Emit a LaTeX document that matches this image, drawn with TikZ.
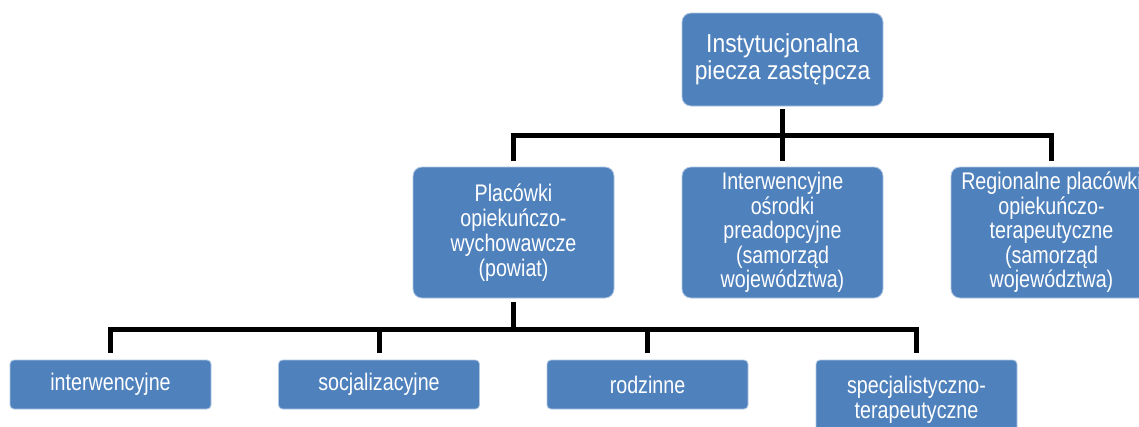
\documentclass[tikz,border=0pt]{standalone}
\usepackage{fontspec}
\newfontfamily\boxfont[FakeStretch=0.82]{Liberation Sans}
\newfontfamily\topfont[FakeStretch=0.88]{Liberation Sans}
\definecolor{boxblue}{HTML}{4F81BD}
\begin{document}
\begin{tikzpicture}[x=1pt, y=-1pt,
    box/.style={rectangle, rounded corners=9pt, fill=boxblue, draw=white!55!boxblue, line width=0.8pt, text=white, align=center, minimum width=201pt, minimum height=131pt, inner sep=1pt, font={\boxfont\fontsize{24}{25}\selectfont}},
    smallbox/.style={box, rounded corners=4pt, minimum height=49pt},
    conn/.style={line width=5pt, line join=miter}]
            % Frame
            \useasboundingbox (0,0) rectangle (1139,426);
            \clip (0,0) rectangle (1139,426);

            % Top box
            \node[box, minimum height=93pt, font={\topfont\fontsize{26}{27}\selectfont}] (top) at (782.5,59.5) {Instytucjonalna\\piecza zastępcza};

            % Second level
            \node[box] (plac) at (513.5,232.5) {Placówki\\opiekuńczo-\\wychowawcze\\(powiat)};
            \node[box, font={\boxfont\fontsize{24}{24.5}\selectfont}] (osrodki) at (782.5,232.5) {Interwencyjne\\ośrodki\\preadopcyjne\\(samorząd\\województwa)};
            \node[box, font={\boxfont\fontsize{24}{24.5}\selectfont}] (region) at (1051.5,232.5) {Regionalne placówki\\opiekuńczo-\\terapeutyczne\\(samorząd\\województwa)};

            % Third level
            \node[smallbox] (interw) at (110.5,384.5) {interwencyjne};
            \node[smallbox] (socjal) at (379,384.5) {socjalizacyjne};
            \node[smallbox] (rodzin) at (647.5,384.5) {rodzinne};
            \node[smallbox, minimum height=80pt] (specjal) at (916.5,400) {specjalistyczno-\\terapeutyczne};

            % Upper connectors
            \coordinate (bus1) at (782.5,135.5);
            \draw[conn] ([yshift=-3pt]top.south) -- (bus1);
            \draw[conn] ([yshift=6pt]plac.north) |- (bus1) -| ([yshift=6pt]region.north);
            \draw[conn] (bus1) -- ([yshift=6pt]osrodki.north);

            % Lower connectors
            \coordinate (bus2) at (513.5,329.5);
            \draw[conn] ([yshift=-4pt]plac.south) -- (bus2);
            \draw[conn] ([yshift=7pt]interw.north) |- (bus2) -| ([yshift=7pt]specjal.north);
            \draw[conn] (bus2 -| socjal.north) -- ([yshift=7pt]socjal.north);
            \draw[conn] (bus2 -| rodzin.north) -- ([yshift=7pt]rodzin.north);
        \end{tikzpicture}
\end{document}
